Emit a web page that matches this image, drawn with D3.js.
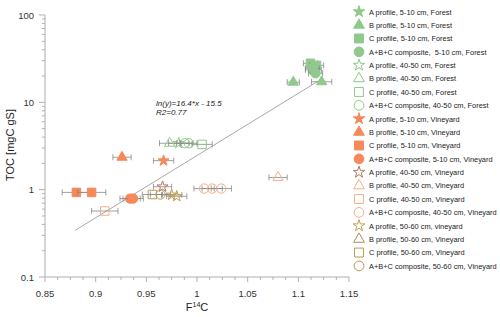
<!DOCTYPE html>
<html>
<head>
<meta charset="utf-8">
<script src="https://cdn.jsdelivr.net/npm/d3@7"></script>
<style>
  body { margin: 0; background: #fff; }
  text { font-family: Arial, "Liberation Sans", sans-serif; white-space: pre; }
</style>
</head>
<body>
<script>
// values: [F14C, TOC, error of F14C]
const forestA510 = [[1.115, 23.5, 0.008]];
const forestB510 = [[1.095, 17, 0.006], [1.123, 17.2, 0.01]];
const forestC510 = [[1.112, 28, 0.007], [1.118, 26.5, 0.007], [1.114, 24.5, 0.007]];
const forestM510 = [[1.117, 21.5, 0.007]];
const forestA4050 = [[0.982, 3.4, 0.01]];
const forestB4050 = [[0.973, 3.4, 0.01]];
const forestC4050 = [[1.005, 3.3, 0.01]];
const forestM4050 = [[0.988, 3.4, 0.008], [0.992, 3.4, 0.008]];
const vineA510 = [[0.967, 2.15, 0.01]];
const vineB510 = [[0.926, 2.35, 0.009]];
const vineC510 = [[0.881, 0.93, 0.014], [0.896, 0.93, 0.014]];
const vineM510 = [[0.934, 0.79, 0.01], [0.937, 0.79, 0.01]];
const vineA4050 = [[0.966, 1.08, 0.009]];
const vineB4050 = [[1.08, 1.38, 0.009]];
const vineC4050 = [[0.909, 0.57, 0.013]];
const vineM4050 = [[1.007, 1.03, 0.01], [1.015, 1.03, 0.01], [1.024, 1.03, 0.01]];
const vineA5060 = [[0.975, 0.87, 0.01], [0.98, 0.84, 0.01]];
const vineB5060 = [];
const vineC5060 = [[0.956, 0.88, 0.01]];
const vineM5060 = [[0.964, 0.88, 0.01]];

const xTicks = [0.85, 0.9, 0.95, 1, 1.05, 1.1, 1.15];
const yTicks = [0.1, 1, 10, 100];
const fit = { slope: 16.4, intercept: -15.5, x0: 0.88, x1: 1.12 };

const green = "#8fc98c", orange = "#f5895a", orangeLight = "#f6ad88", gold = "#d9bb5e";

const series = [
  { name: "A profile, 5-10 cm, Forest", data: forestA510, shape: d3.symbolStar, color: green, fill: true },
  { name: "B profile, 5-10 cm, Forest", data: forestB510, shape: d3.symbolTriangle, color: green, fill: true },
  { name: "C profile, 5-10 cm, Forest", data: forestC510, shape: d3.symbolSquare, color: green, fill: true },
  { name: "A+B+C composite,  5-10 cm, Forest", data: forestM510, shape: d3.symbolCircle, color: green, fill: true },
  { name: "A profile, 40-50 cm, Forest", data: forestA4050, shape: d3.symbolStar, color: green, fill: false },
  { name: "B profile, 40-50 cm, Forest", data: forestB4050, shape: d3.symbolTriangle, color: green, fill: false },
  { name: "C profile, 40-50 cm, Forest", data: forestC4050, shape: d3.symbolSquare, color: green, fill: false },
  { name: "A+B+C composite, 40-50 cm, Forest", data: forestM4050, shape: d3.symbolCircle, color: green, fill: false },
  { name: "A profile, 5-10 cm, Vineyard", data: vineA510, shape: d3.symbolStar, color: orange, fill: true },
  { name: "B profile, 5-10 cm, Vineyard", data: vineB510, shape: d3.symbolTriangle, color: orange, fill: true },
  { name: "C profile, 5-10 cm, Vineyard", data: vineC510, shape: d3.symbolSquare, color: orange, fill: true },
  { name: "A+B+C composite, 5-10 cm, Vineyard", data: vineM510, shape: d3.symbolCircle, color: orange, fill: true },
  { name: "A profile, 40-50 cm, Vineyard", data: vineA4050, shape: d3.symbolStar, color: "#b07a5a", fill: false },
  { name: "B profile, 40-50 cm, Vineyard", data: vineB4050, shape: d3.symbolTriangle, color: orangeLight, fill: false },
  { name: "C profile, 40-50 cm, Vineyard", data: vineC4050, shape: d3.symbolSquare, color: orangeLight, fill: false },
  { name: "A+B+C composite, 40-50 cm, Vineyard", data: vineM4050, shape: d3.symbolCircle, color: orangeLight, fill: false },
  { name: "A profile, 50-60 cm, vineyard", data: vineA5060, shape: d3.symbolStar, color: "#c2a04a", fill: false },
  { name: "B profile, 50-60 cm, Vineyard", data: vineB5060, shape: d3.symbolTriangle, color: "#a8905a", fill: false },
  { name: "C profile, 50-60 cm, Vineyard", data: vineC5060, shape: d3.symbolSquare, color: "#b89a55", fill: false },
  { name: "A+B+C composite, 50-60 cm, Vineyard", data: vineM5060, shape: d3.symbolCircle, color: "#b89a55", fill: false }
];

const W = 500, H = 317;
const margin = { top: 15, right: 151, bottom: 40, left: 45 };

const svg = d3.select("body").append("svg")
  .attr("width", W)
  .attr("height", H);

const x = d3.scaleLinear().domain([0.85, 1.15]).range([margin.left, W - margin.right]);
const y = d3.scaleLog().domain([0.1, 100]).range([H - margin.bottom, margin.top]);

const sizes = new Map([[d3.symbolStar, 38], [d3.symbolTriangle, 46], [d3.symbolSquare, 72], [d3.symbolCircle, 68]]);
const sym = (s, k) => d3.symbol().type(s.shape).size(sizes.get(s.shape) * (k || 1))();

// x axis
const xAxis = svg.append("g")
  .attr("transform", `translate(0,${y(0.1)})`);
xAxis.append("line")
  .attr("x1", x(0.85)).attr("x2", x(1.15))
  .attr("stroke", "#c8c8c8").attr("stroke-width", 1.5);
xAxis.selectAll(".minor").data(d3.range(0, 25).map(k => 0.85 + k * 0.0125)).join("line")
  .attr("x1", d => x(d)).attr("x2", d => x(d))
  .attr("y1", 0).attr("y2", (d, i) => i % 4 === 0 ? 5 : 3)
  .attr("stroke", "#b0b0b0");
xAxis.selectAll("text").data(xTicks).join("text")
  .attr("x", d => x(d)).attr("y", 20)
  .attr("text-anchor", "middle")
  .attr("font-size", 9.5).attr("fill", "#333")
  .text(d => d);

// y axis
const yAxis = svg.append("g")
  .attr("transform", `translate(${x(0.85)},0)`);
yAxis.append("line")
  .attr("y1", y(0.1)).attr("y2", y(100))
  .attr("stroke", "#c8c8c8").attr("stroke-width", 1.5);
const yMinor = [];
[0.1, 1, 10].forEach(b => d3.range(1, 10).forEach(k => yMinor.push(b * k)));
yMinor.push(100);
yAxis.selectAll(".minor").data(yMinor).join("line")
  .attr("x1", d => yTicks.includes(+d.toPrecision(3)) ? -6 : -3).attr("x2", 0)
  .attr("y1", d => y(d)).attr("y2", d => y(d))
  .attr("stroke", "#b0b0b0");
yAxis.selectAll("text").data(yTicks).join("text")
  .attr("x", -11).attr("y", d => y(d) + 3.5)
  .attr("text-anchor", "end")
  .attr("font-size", 9.5).attr("fill", "#333")
  .text(d => d);

// axis titles
svg.append("text")
  .attr("transform", "translate(14,145) rotate(-90)")
  .attr("text-anchor", "middle")
  .attr("font-size", 11).attr("fill", "#222")
  .text("TOC [mgC gS]");
const xt = svg.append("text")
  .attr("x", x(1)).attr("y", 311)
  .attr("text-anchor", "middle")
  .attr("font-size", 11).attr("fill", "#222");
xt.append("tspan").text("F");
xt.append("tspan").attr("font-size", 7).attr("dy", -4).text("14");
xt.append("tspan").attr("dy", 4).text("C");

// regression line
const ln = v => Math.exp(fit.slope * v + fit.intercept);
svg.append("line")
  .attr("x1", x(fit.x0)).attr("y1", y(ln(fit.x0)))
  .attr("x2", x(fit.x1)).attr("y2", y(ln(fit.x1)))
  .attr("stroke", "#a8a8a8").attr("stroke-width", 1);
svg.append("text")
  .attr("x", 156).attr("y", 106)
  .attr("font-size", 8).attr("font-style", "italic").attr("fill", "#222")
  .text("ln(y)=16.4*x - 15.5");
svg.append("text")
  .attr("x", 156).attr("y", 115)
  .attr("font-size", 8).attr("font-style", "italic").attr("fill", "#222")
  .text("R2=0.77");

// points with horizontal error bars
series.forEach(s => {
  const g = svg.append("g");
  s.data.forEach(([fx, toc, e]) => {
    const py = y(toc);
    g.append("line")
      .attr("x1", x(fx - e)).attr("x2", x(fx + e))
      .attr("y1", py).attr("y2", py)
      .attr("stroke", "#888").attr("stroke-width", 0.8);
    [fx - e, fx + e].forEach(v => g.append("line")
      .attr("x1", x(v)).attr("x2", x(v))
      .attr("y1", py - 3).attr("y2", py + 3)
      .attr("stroke", "#888").attr("stroke-width", 0.8));
    g.append("path")
      .attr("d", sym(s))
      .attr("transform", `translate(${x(fx)},${py})`)
      .attr("fill", s.fill ? s.color : "none")
      .attr("stroke", s.color).attr("stroke-width", 1);
  });
});

// legend
const legend = svg.append("g");
series.forEach((s, i) => {
  const ly = 11.7 + i * 13.38;
  legend.append("path")
    .attr("d", sym(s, 1.1))
    .attr("transform", `translate(359,${ly})`)
    .attr("fill", s.fill ? s.color : "none")
    .attr("stroke", s.color).attr("stroke-width", 1);
  legend.append("text")
    .attr("x", 369).attr("y", ly + 2.8)
    .attr("font-size", 7.4).attr("fill", "#222")
    .text(s.name);
});
</script>
</body>
</html>
